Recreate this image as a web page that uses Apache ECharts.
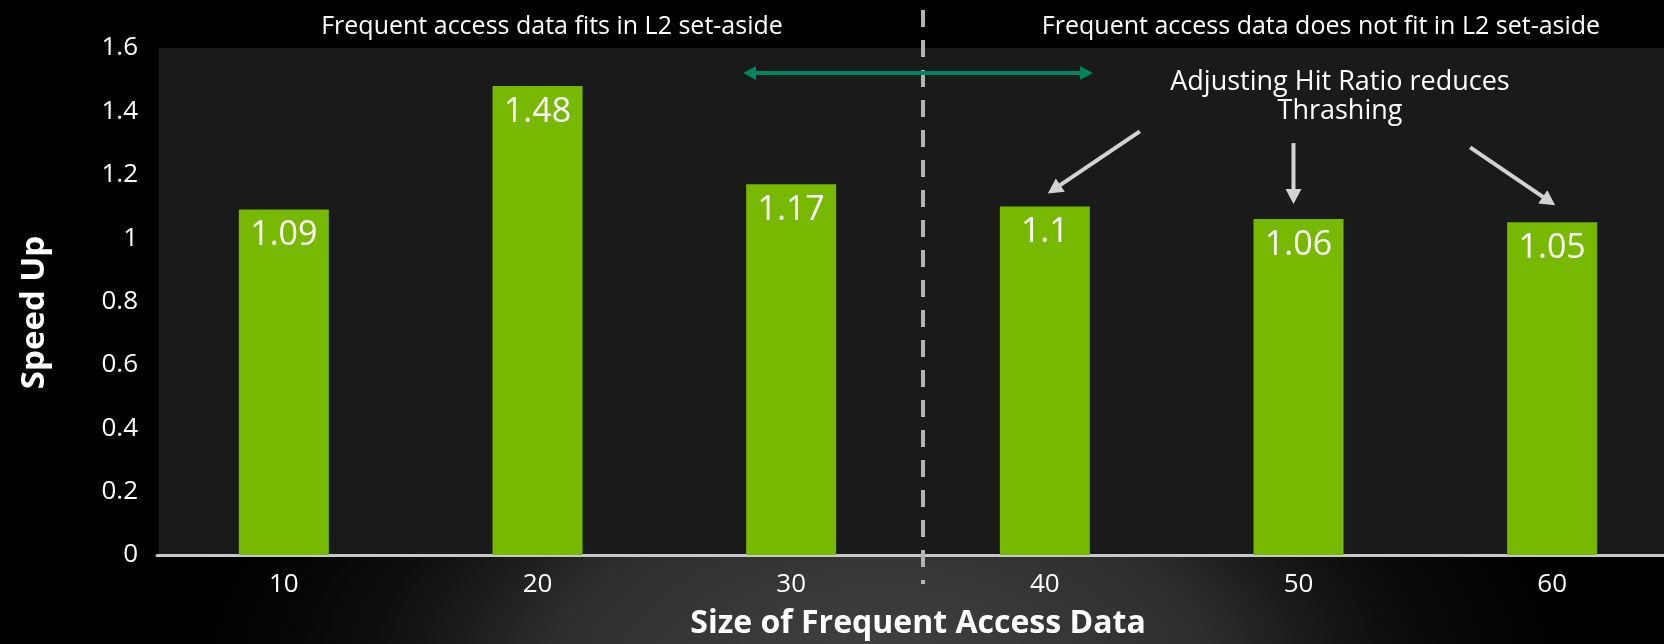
<!DOCTYPE html>
<html>
<head>
<meta charset="utf-8">
<script src="https://cdn.jsdelivr.net/npm/echarts@6/dist/echarts.min.js"></script>
<style>
  html, body { margin: 0; padding: 0; background: #000; }
  #chart { width: 1664px; height: 644px; }
</style>
</head>
<body>
<div id="chart"></div>
<script>
// Speed-up per size of frequently accessed data
const categories = ['10', '20', '30', '40', '50', '60'];
const speedUp = [1.09, 1.48, 1.17, 1.1, 1.06, 1.05];
const regionLabels = ['Frequent access data fits in L2 set-aside', 'Frequent access data does not fit in L2 set-aside'];
const noteLines = ['Adjusting Hit Ratio reduces', 'Thrashing'];
const noteTargets = ['40', '50', '60'];

const FONT = 'Open Sans';
const W = 1664, H = 644;
const GRID = { left: 157, right: -15, top: 48, bottom: 89 };

const chart = echarts.init(document.getElementById('chart'), null, { renderer: 'canvas' });

chart.setOption({
  backgroundColor: '#000',
  animation: false,
  grid: Object.assign({ containLabel: false, outerBoundsMode: 'none', show: false }, GRID),
  xAxis: {
    type: 'category',
    data: categories,
    axisLine: { lineStyle: { color: '#c8c8c8', width: 3 } },
    axisTick: { show: false },
    axisLabel: { color: '#fff', fontSize: 26, margin: 17, fontFamily: FONT },
    name: 'Size of Frequent Access Data',
    nameLocation: 'middle',
    nameGap: 53,
    nameTextStyle: { color: '#fff', fontSize: 32, fontWeight: 'bold', fontFamily: FONT }
  },
  yAxis: {
    type: 'value',
    min: 0, max: 1.6, interval: 0.2,
    axisLine: { show: false },
    axisTick: { show: false },
    splitLine: { show: false },
    axisLabel: { color: '#fff', fontSize: 26, margin: 19, fontFamily: FONT },
    name: 'Speed Up',
    nameLocation: 'middle',
    nameGap: 106,
    nameRotate: 90,
    nameTextStyle: { color: '#fff', fontSize: 33, fontWeight: 'bold', fontFamily: FONT, padding: [0, 22, 0, 0] }
  },
  series: [{
    type: 'bar',
    data: speedUp,
    barWidth: 90,
    z: 3,
    itemStyle: { color: '#76b900' },
    label: {
      show: true, position: 'insideTop', distance: 9,
      color: '#fff', fontSize: 34, fontFamily: FONT
    }
  }]
});

// ---- overlays anchored to the axes ----
const px = (cat, v) => chart.convertToPixel({ gridIndex: 0 }, [cat, v]);

function arrowHead(tx, ty, fx, fy, len, half, color, z) {
  const a = Math.atan2(ty - fy, tx - fx);
  const bx = tx - len * Math.cos(a), by = ty - len * Math.sin(a);
  const nx = -Math.sin(a) * half, ny = Math.cos(a) * half;
  return {
    type: 'polygon', z: z, silent: true,
    shape: { points: [[tx, ty], [bx + nx, by + ny], [bx - nx, by - ny]] },
    style: { fill: color }
  };
}
function arrow(x1, y1, x2, y2, color, width, len, half, both, z) {
  const a = Math.atan2(y2 - y1, x2 - x1);
  const ex = x2 - (len - 2) * Math.cos(a), ey = y2 - (len - 2) * Math.sin(a);
  const sx = both ? x1 + (len - 2) * Math.cos(a) : x1;
  const sy = both ? y1 + (len - 2) * Math.sin(a) : y1;
  const els = [{
    type: 'line', z: z, silent: true,
    shape: { x1: sx, y1: sy, x2: ex, y2: ey },
    style: { stroke: color, lineWidth: width }
  }, arrowHead(x2, y2, x1, y1, len, half, color, z)];
  if (both) els.push(arrowHead(x1, y1, x2, y2, len, half, color, z));
  return els;
}

const plotTop = px('10', 1.6)[1];
const plotBottom = px('10', 0)[1];
const divider = (px('30', 0)[0] + px('40', 0)[0]) / 2 + 5;

const graphics = [];

// soft glow behind the lower area
graphics.push({
  type: 'circle', z: -20, silent: true,
  x: 880, y: 690, scaleX: 1.7, scaleY: 1,
  shape: { cx: 0, cy: 0, r: 440 },
  style: {
    fill: new echarts.graphic.RadialGradient(0.5, 0.5, 0.5, [
      { offset: 0, color: 'rgba(68,68,68,1)' },
      { offset: 0.45, color: 'rgba(46,46,46,1)' },
      { offset: 1, color: 'rgba(0,0,0,0)' }
    ])
  }
});
// plot background
graphics.push({
  type: 'rect', z: -10, silent: true,
  shape: { x: GRID.left + 2, y: plotTop, width: W - GRID.left, height: plotBottom - plotTop - 1 },
  style: { fill: '#1a1a1a' }
});

// divider between the two regimes
graphics.push({
  type: 'line', z: 5, silent: true,
  shape: { x1: divider, y1: 10, x2: divider, y2: 584 },
  style: { stroke: '#b4b4b4', lineWidth: 4, lineDash: [17, 13] }
});

// region captions
const captionFont = '25px "' + FONT + '"';
graphics.push({
  type: 'text', z: 5, silent: true,
  style: { x: 552, y: 27, text: regionLabels[0], fill: '#fff', font: captionFont, textAlign: 'center', textVerticalAlign: 'middle' }
});
graphics.push({
  type: 'text', z: 5, silent: true,
  style: { x: 1321, y: 27, text: regionLabels[1], fill: '#fff', font: captionFont, textAlign: 'center', textVerticalAlign: 'middle' }
});

// green double arrow across the divider
graphics.push(...arrow(divider - 180, 73, divider + 170, 73, '#00845e', 4, 13, 7, true, 6));

// annotation note
const noteFont = '27px "' + FONT + '"';
graphics.push({
  type: 'text', z: 5, silent: true,
  style: { x: 1340, y: 82, text: noteLines[0], fill: '#fff', font: noteFont, textAlign: 'center', textVerticalAlign: 'middle' }
});
graphics.push({
  type: 'text', z: 5, silent: true,
  style: { x: 1340, y: 111, text: noteLines[1], fill: '#fff', font: noteFont, textAlign: 'center', textVerticalAlign: 'middle' }
});

// pointer arrows toward the bars
const pointerOffsets = [[3, -13, 92, -62], [-5, -15, 0, -61], [3, -17, -85, -58]];
noteTargets.forEach((cat, i) => {
  const idx = categories.indexOf(cat);
  const p = px(cat, speedUp[idx]);
  const o = pointerOffsets[i];
  const tx = p[0] + o[0], ty = p[1] + o[1];
  graphics.push(...arrow(tx + o[2], ty + o[3], tx, ty, '#d2d2d2', 4, 15, 8, false, 6));
});

chart.setOption({ graphic: graphics });
</script>
</body>
</html>
